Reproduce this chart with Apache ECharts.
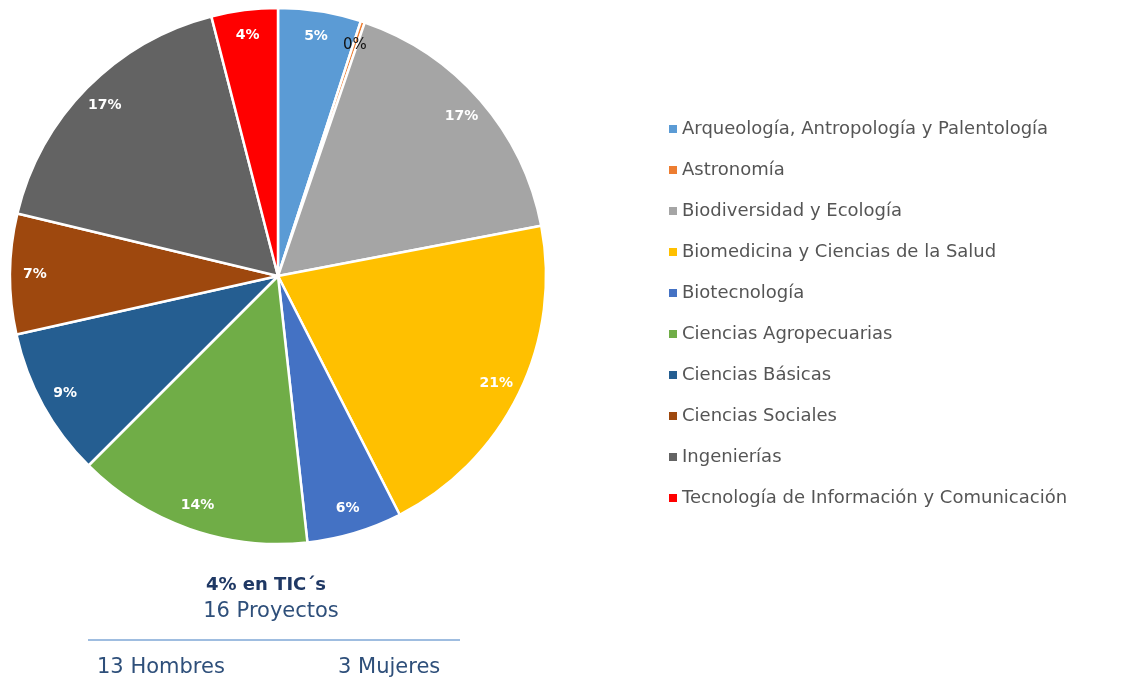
<!DOCTYPE html>
<html>
<head>
<meta charset="utf-8">
<script src="https://cdn.jsdelivr.net/npm/echarts@6/dist/echarts.min.js"></script>
<style>
  html, body { margin: 0; padding: 0; background: #fff; }
  #chart { width: 1122px; height: 682px; }
</style>
</head>
<body>
<div id="chart"></div>
<script>
// áreas y número de proyectos (total ~400)
const areas = [
  "Arqueología, Antropología y Palentología",
  "Astronomía",
  "Biodiversidad y Ecología",
  "Biomedicina y Ciencias de la Salud",
  "Biotecnología",
  "Ciencias Agropecuarias",
  "Ciencias Básicas",
  "Ciencias Sociales",
  "Ingenierías",
  "Tecnología de Información y Comunicación"
];
const proyectos = [20, 1, 67, 82, 23, 57, 36, 29, 69, 16];
const colores = [
  "#5B9BD5", "#ED7D31", "#A5A5A5", "#FFC000", "#4472C4",
  "#70AD47", "#255E91", "#9E480E", "#636363", "#FF0000"
];

// resumen de abajo
const resumenTitulo = "4% en TIC´s";
const resumenProyectos = "16 Proyectos";
const hombres = "13 Hombres";
const mujeres = "3 Mujeres";

const total = proyectos.reduce((a, b) => a + b, 0);
const fuente = "'DejaVu Sans', sans-serif";

const datos = areas.map((name, i) => ({
  name: name,
  value: proyectos[i],
  itemStyle: { color: colores[i] }
}));

const chart = echarts.init(document.getElementById("chart"));

const options = {
  animation: false,
  color: colores,
  legend: {
    orient: "vertical",
    left: 664,
    top: 114,
    icon: "rect",
    itemWidth: 8,
    itemHeight: 8,
    itemGap: 21,
    itemTextGap: 8,
    itemStyle: { borderWidth: 0 },
    textStyle: {
      color: "#555",
      fontSize: 18,
      lineHeight: 20,
      fontFamily: fuente
    },
    data: areas
  },
  series: [
    {
      // pastel principal
      type: "pie",
      center: [278, 276],
      radius: [0, 268],
      startAngle: 90,
      clockwise: true,
      silent: true,
      label: { show: false },
      labelLine: { show: false },
      itemStyle: { borderColor: "#fff", borderWidth: 2.5 },
      data: datos
    },
    {
      // anillo transparente solo para colocar las etiquetas cerca del borde
      type: "pie",
      center: [278, 276],
      radius: [214, 266],
      startAngle: 90,
      clockwise: true,
      silent: true,
      legendHoverLink: false,
      itemStyle: { color: "transparent" },
      labelLine: { show: false },
      label: {
        show: true,
        position: "inside",
        color: "#fff",
        fontWeight: "bold",
        fontSize: 14,
        fontFamily: fuente,
        formatter: p => Math.round(p.value / total * 100) + "%"
      },
      data: areas.map((name, i) => ({
        name: name,
        value: proyectos[i],
        label: i === 1 ? { color: "#111", fontWeight: "normal", fontSize: 15 } : {}
      }))
    }
  ],
  graphic: [
    {
      type: "text",
      x: 266, y: 576,
      style: {
        text: resumenTitulo,
        fill: "#1F3864", font: "bold 18px " + fuente,
        align: "center"
      }
    },
    {
      type: "text",
      x: 271, y: 601,
      style: {
        text: resumenProyectos, align: "center",
        fill: "#2E4F7A", font: "21px " + fuente
      }
    },
    {
      type: "line",
      shape: { x1: 88, y1: 640, x2: 460, y2: 640 },
      style: { stroke: "#7FA7D6", lineWidth: 1.5 }
    },
    {
      type: "text",
      x: 97, y: 657,
      style: { text: hombres, fill: "#2E4F7A", font: "21px " + fuente }
    },
    {
      type: "text",
      x: 338, y: 657,
      style: { text: mujeres, fill: "#2E4F7A", font: "21px " + fuente }
    }
  ]
};

chart.setOption(options);
</script>
</body>
</html>
